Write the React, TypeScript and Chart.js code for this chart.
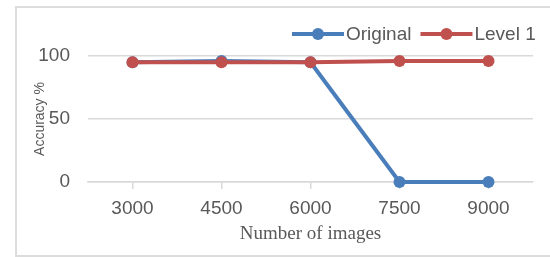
import React, { useEffect, useRef } from "react";
import { Chart, registerables } from "chart.js";

Chart.register(...registerables);

const categories = ["3000", "4500", "6000", "7500", "9000"];
const originalValues = [95, 96, 95, 0, 0];
const level1Values = [95, 95, 95, 96, 96];
const yTicks = [0, 50, 100];
const seriesNames = ["Original", "Level 1"];
const seriesColors = ["#4a7ebb", "#c0504d"];

const GRAY = "#d9d9d9";
const TEXT = "#595959";

const framePlugin = {
  id: "frame",
  beforeDraw(chart: any) {
    const ctx = chart.ctx;
    ctx.save();
    ctx.strokeStyle = "#dcdcdc";
    ctx.lineWidth = 2;
    ctx.strokeRect(16, 7, 600, 249);
    ctx.restore();
  },
};

const legendPlugin = {
  id: "customLegend",
  afterDraw(chart: any) {
    const ctx = chart.ctx;
    ctx.save();
    ctx.font = "19px 'Liberation Sans'";
    ctx.textBaseline = "middle";
    let x = 292;
    const y = 34;
    chart.data.datasets.forEach((ds: any) => {
      ctx.strokeStyle = ds.borderColor;
      ctx.lineWidth = 4;
      ctx.beginPath();
      ctx.moveTo(x, y);
      ctx.lineTo(x + 52, y);
      ctx.stroke();
      ctx.fillStyle = ds.borderColor;
      ctx.beginPath();
      ctx.arc(x + 26, y, 6, 0, Math.PI * 2);
      ctx.fill();
      ctx.fillStyle = TEXT;
      ctx.fillText(ds.label, x + 54, y + 1);
      x = x + 54 + ctx.measureText(ds.label).width + 9;
    });
    ctx.restore();
  },
};

export default function App() {
  const ref = useRef<HTMLCanvasElement | null>(null);
  useEffect(() => {
    if (!ref.current) return;
    const chart = new Chart(ref.current, {
      type: "line",
      data: {
        labels: categories,
        datasets: [
          {
            label: seriesNames[0],
            data: originalValues,
            borderColor: seriesColors[0],
            backgroundColor: seriesColors[0],
            borderWidth: 4,
            pointRadius: 6,
            pointBorderWidth: 0,
            pointBackgroundColor: seriesColors[0],
            tension: 0,
            clip: false,
            order: 2,
          },
          {
            label: seriesNames[1],
            data: level1Values,
            borderColor: seriesColors[1],
            backgroundColor: seriesColors[1],
            borderWidth: 4,
            pointRadius: 6,
            pointBorderWidth: 0,
            pointBackgroundColor: seriesColors[1],
            tension: 0,
            clip: false,
            order: 1,
          },
        ],
      },
      options: {
        animation: false,
        responsive: true,
        maintainAspectRatio: false,
        layout: { padding: { top: 56, right: 17, left: 0, bottom: 0 } },
        plugins: {
          legend: { display: false },
          tooltip: { enabled: false },
        },
        scales: {
          x: {
            type: "category",
            offset: true,
            grid: {
              drawOnChartArea: false,
              drawTicks: true,
              tickLength: 7,
              color: GRAY,
              lineWidth: 1.5,
            },
            border: { display: true, color: GRAY, width: 1.5 },
            ticks: {
              color: TEXT,
              font: { family: "'Liberation Sans'", size: 19 },
              padding: 8,
              maxRotation: 0,
            },
            title: {
              display: true,
              text: "Number of images",
              color: TEXT,
              font: { family: "'Liberation Serif'", size: 19 },
              padding: { top: 0, bottom: 12 },
            },
            afterFit(scale: any) {
              scale.height = 75;
            },
          },
          y: {
            min: 0,
            max: 100,
            afterBuildTicks(scale: any) {
              scale.ticks = yTicks.map((v) => ({ value: v }));
            },
            grid: {
              drawTicks: false,
              color: GRAY,
              lineWidth: 1.5,
            },
            border: { display: false },
            ticks: {
              color: TEXT,
              font: { family: "'Liberation Sans'", size: 19 },
              padding: 18,
            },
            title: {
              display: true,
              text: "Accuracy %",
              color: TEXT,
              font: { family: "'Liberation Sans'", size: 14 },
              padding: { top: 32, bottom: 0 },
            },
            afterFit(scale: any) {
              scale.width = 88;
            },
          },
        },
      },
      plugins: [framePlugin, legendPlugin],
    });
    return () => chart.destroy();
  }, []);
  return (
    <div style={{ position: "absolute", left: 0, top: 0, width: 550, height: 257, background: "#fff" }}>
      <canvas ref={ref} />
    </div>
  );
}
